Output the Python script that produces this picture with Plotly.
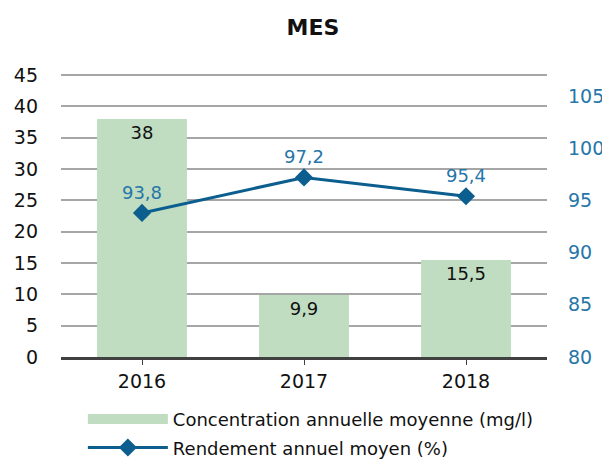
import plotly.graph_objects as go

years = ["2016", "2017", "2018"]
concentration = [38, 9.9, 15.5]
rendement = [93.8, 97.2, 95.4]
conc_labels = ["38", "9,9", "15,5"]
rend_labels = ["93,8", "97,2", "95,4"]
left_ticks = list(range(0, 50, 5))
right_ticks = list(range(80, 110, 5))

FONT = "DejaVu Sans"
GREEN = "#c0ddc1"
BLUE_LINE = "#0b5e8e"
BLUE_TEXT = "#2676a8"

fig = go.Figure()
fig.add_trace(go.Bar(
    x=years, y=concentration, name="Concentration annuelle moyenne (mg/l)",
    marker=dict(color=GREEN, line=dict(width=0)),
    width=0.555,
    text=conc_labels, textposition="inside", insidetextanchor="end",
    textfont=dict(family=FONT, size=18, color="#111111"),
    yaxis="y", legendgroup="conc", showlegend=False,
))
# legend swatch for the bar series (wide green block, like the original)
fig.add_trace(go.Scatter(
    x=[None], y=[None], name="Concentration annuelle moyenne (mg/l)",
    mode="lines", line=dict(color=GREEN, width=17),
    legendgroup="conc", showlegend=True, hoverinfo="skip",
))
fig.add_trace(go.Scatter(
    x=years, y=rendement, name="Rendement annuel moyen (%)",
    mode="lines+markers+text",
    line=dict(color=BLUE_LINE, width=3),
    marker=dict(symbol="diamond", size=14, color=BLUE_LINE),
    text=rend_labels, textposition="top center",
    textfont=dict(family=FONT, size=18, color=BLUE_TEXT),
    yaxis="y2", legendgroup="rend",
))

fig.update_layout(
    width=610, height=460,
    margin=dict(l=53, r=71, t=64, b=111, autoexpand=False),
    paper_bgcolor="white", plot_bgcolor="white",
    title=dict(text="<b>MES</b>", x=0.5, xanchor="center", y=0.958, yanchor="middle",
               font=dict(family=FONT, size=22, color="#111111")),
    font=dict(family=FONT, size=18, color="#111111"),
    separators=", ",
    showlegend=True,
    legend=dict(orientation="v", x=0.045, xanchor="left", y=-0.154, yanchor="top",
                font=dict(family=FONT, size=18, color="#111111"),
                itemwidth=80, tracegroupgap=2, bgcolor="rgba(0,0,0,0)"),
    xaxis=dict(
        type="category", showgrid=False, showline=True, linecolor="#404040", linewidth=3,
        ticks="outside", ticklen=5, tickcolor="#404040",
        tickfont=dict(family=FONT, size=19, color="#111111"),
    ),
    yaxis=dict(
        range=[0, 45.5], tickvals=left_ticks, showgrid=True, gridcolor="#a6a6a6", gridwidth=2,
        zeroline=False, showline=False, ticks="",
        tickfont=dict(family=FONT, size=19, color="#111111"), ticklabelstandoff=22,
    ),
    yaxis2=dict(
        range=[80, 107.3], tickvals=right_ticks, overlaying="y", side="right",
        showgrid=False, zeroline=False, showline=False, ticks="",
        tickfont=dict(family=FONT, size=19, color=BLUE_TEXT), ticklabelstandoff=20,
    ),
    bargap=0.445,
)

fig.write_html("out.html")
